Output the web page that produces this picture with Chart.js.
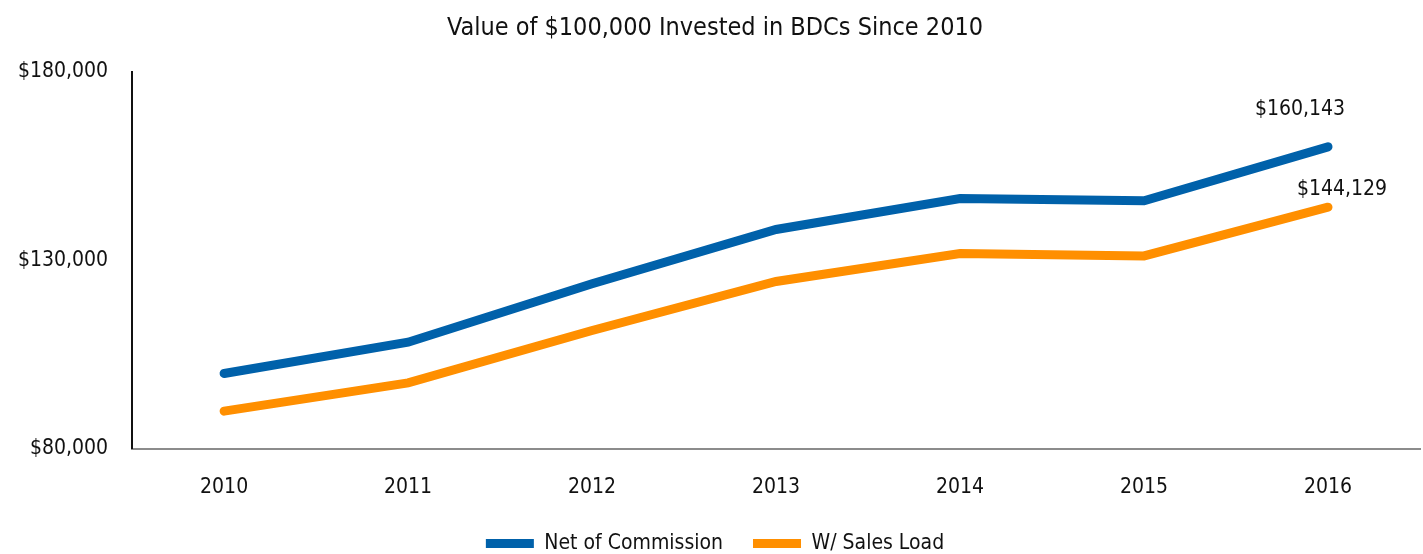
<!DOCTYPE html>
<html>
<head>
<meta charset="utf-8">
<script src="https://cdn.jsdelivr.net/npm/chart.js@4"></script>
<style>
  html, body { margin: 0; padding: 0; background: #fff; }
  #wrap { width: 1423px; height: 554px; }
</style>
</head>
<body>
<div id="wrap"><canvas id="chart"></canvas></div>
<script>
const years = ['2010', '2011', '2012', '2013', '2014', '2015', '2016'];
const netOfCommission = [100000, 108300, 123800, 138200, 146400, 145800, 160143];
const withSalesLoad = [90000, 97500, 111400, 124400, 131800, 131200, 144129];
const yTicks = [80000, 130000, 180000];

const FONT = "'DejaVu Sans Condensed', 'Liberation Sans Narrow', sans-serif";
const BLUE = 'rgb(0, 97, 170)';
const ORANGE = 'rgb(255, 143, 0)';

const money = (v) => '$' + v.toLocaleString('en-US');

// label the last point of each line
const endLabels = {
  id: 'endLabels',
  afterDatasetsDraw(chart) {
    const ctx = chart.ctx;
    const offsets = [[-28, -37], [14, -18]];
    ctx.save();
    ctx.font = '21px ' + FONT;
    ctx.fillStyle = '#111';
    ctx.textAlign = 'center';
    ctx.textBaseline = 'middle';
    chart.data.datasets.forEach((ds, i) => {
      const meta = chart.getDatasetMeta(i);
      const last = meta.data[meta.data.length - 1];
      ctx.fillText(money(ds.data[ds.data.length - 1]), last.x + offsets[i][0], last.y + offsets[i][1]);
    });
    ctx.restore();
  }
};

new Chart(document.getElementById('chart'), {
  type: 'line',
  data: {
    labels: years,
    datasets: [
      {
        label: 'Net of Commission',
        data: netOfCommission,
        borderColor: BLUE,
        backgroundColor: BLUE,
        borderWidth: 9,
        borderCapStyle: 'round',
        pointRadius: 0,
        tension: 0
      },
      {
        label: 'W/ Sales Load',
        data: withSalesLoad,
        borderColor: ORANGE,
        backgroundColor: ORANGE,
        borderWidth: 9,
        borderCapStyle: 'round',
        pointRadius: 0,
        tension: 0
      }
    ]
  },
  options: {
    responsive: true,
    maintainAspectRatio: false,
    animation: false,
    layout: { padding: { top: 0, right: 3, bottom: -10, left: 10 } },
    plugins: {
      title: {
        display: true,
        text: 'Value of $100,000 Invested in BDCs Since 2010',
        color: '#111',
        font: { family: FONT, size: 25, weight: 'normal' },
        padding: { top: 13, bottom: 29 }
      },
      legend: {
        position: 'bottom',
        labels: {
          color: '#111',
          font: { family: FONT, size: 21 },
          usePointStyle: true,
          pointStyle: 'line',
          pointStyleWidth: 48,
          boxHeight: 8,
          padding: 30
        }
      },
      tooltip: { enabled: false }
    },
    scales: {
      x: {
        offset: true,
        grid: { display: false, drawTicks: false },
        border: { color: '#8c8c8c', width: 2 },
        ticks: { color: '#111', font: { family: FONT, size: 21 }, padding: 26 },
        afterFit: (scale) => { scale.height -= 23; }
      },
      y: {
        min: 80000,
        max: 180000,
        afterBuildTicks: (axis) => { axis.ticks = yTicks.map(v => ({ value: v })); },
        grid: { display: false, drawTicks: false },
        border: { color: '#111', width: 2 },
        ticks: {
          color: '#111',
          font: { family: FONT, size: 21 },
          padding: 24,
          callback: (v) => money(v)
        },
        afterFit: (scale) => { scale.width -= 16; }
      }
    }
  },
  plugins: [endLabels]
});
</script>
</body>
</html>
